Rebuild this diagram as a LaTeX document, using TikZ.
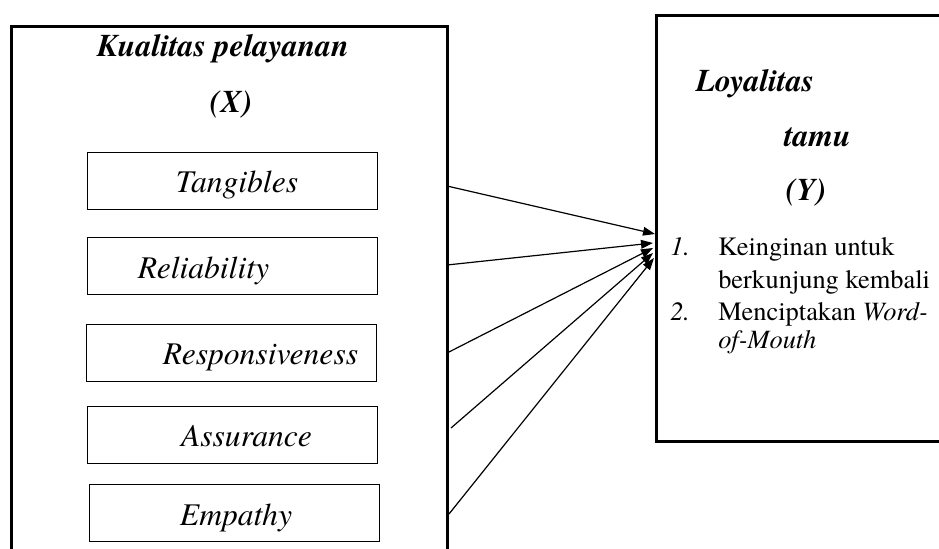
\documentclass[tikz,border=0pt]{standalone}
\usepackage{fontspec}
\setmainfont{texgyretermes}[Extension=.otf, UprightFont=*-regular, ItalicFont=*-italic, BoldFont=*-bold, BoldItalicFont=*-bolditalic]
\usetikzlibrary{arrows.meta}
\begin{document}
\begin{tikzpicture}[x=0.75pt,y=-0.75pt,
  head/.style={font=\fontsize{23.7}{28}\selectfont\bfseries\itshape, inner sep=0pt, anchor=base},
  dimtext/.style={font=\fontsize{23.7}{28}\selectfont\itshape, inner sep=0pt, anchor=base},
  dimbox/.style={draw, line width=1pt, inner sep=0pt, minimum width=217.5pt, minimum height=42.5pt, anchor=north west},
  outerbox/.style={draw, line width=2pt, inner sep=0pt, anchor=north west},
  lst/.style={font=\fontsize{19.8}{24}\selectfont, inner sep=0pt, anchor=base west},
  conn/.style={line width=0.9pt, -{Triangle[length=9pt,width=6.5pt]}}]
\useasboundingbox (0,0) rectangle (939,549);
\clip (0,0) rectangle (939,549);
% outer boxes
\node[outerbox, minimum width=327pt, minimum height=450pt] (X) at (10,25) {};
\node[outerbox, minimum width=260pt, minimum height=319.5pt] (Y) at (655,14) {};
% left box texts
\node[head] (xt1) at (223,57) {Kualitas pelayanan};
\node[head] (xt2) at (231,113) {(X)};
% dimension boxes
\node[dimbox] (b1) at (87,152) {};
\node[dimbox] (b2) at (87,237) {};
\node[dimbox] (b3) at (86,324) {};
\node[dimbox] (b4) at (87,406) {};
\node[dimbox] (b5) at (89,484) {};
\node[dimtext] (t1) at (237,193) {Tangibles};
\node[dimtext] (t2) at (203.5,278) {Reliability};
\node[dimtext] (t3) at (260.5,364) {Responsiveness};
\node[dimtext] (t4) at (246.5,446) {Assurance};
\node[dimtext] (t5) at (236,525) {Empathy};
% right box texts
\node[head] (yt1) at (755,92) {Loyalitas};
\node[head] (yt2) at (817.5,147) {tamu};
\node[head] (yt3) at (806,200) {(Y)};
\node[lst] (n1) at (670,255) {\itshape 1.};
\node[lst] (l1) at (718,255) {Keinginan untuk};
\node[lst] (l2) at (718,288) {berkunjung kembali};
\node[lst] (n2) at (670,320) {\itshape 2.};
\node[lst] (l3) at (718,320) {Menciptakan \textit{Word-}};
\node[lst] (l4) at (718,348) {\textit{of-Mouth}};
% connectors
\coordinate (s1) at (447,186);
\coordinate (s2) at (447,265);
\coordinate (s3) at (447,353);
\coordinate (s4) at (451,428);
\coordinate (s5) at (449,514);
\coordinate (e1) at (655,234);
\coordinate (e2) at (653,243);
\coordinate (e3) at (653,248);
\coordinate (e4) at (653,253);
\coordinate (e5) at (654,258);
\draw[conn] (s1) -- (e1);
\draw[conn] (s2) -- (e2);
\draw[conn] (s3) -- (e3);
\draw[conn] (s4) -- (e4);
\draw[conn] (s5) -- (e5);
\end{tikzpicture}
\end{document}
